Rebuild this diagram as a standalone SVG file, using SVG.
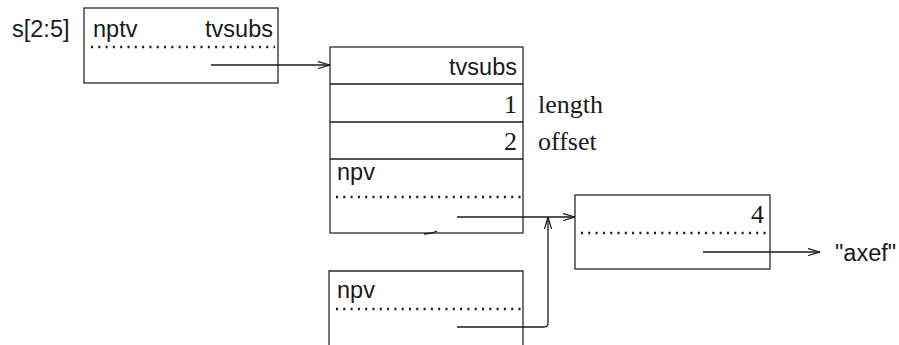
<svg xmlns="http://www.w3.org/2000/svg" width="899" height="345" viewBox="0 0 899 345">
<defs>
<marker id="ah" viewBox="0 0 12 8" refX="12" refY="4" markerWidth="12" markerHeight="8" markerUnits="userSpaceOnUse" orient="auto">
<path d="M0,0.5 L12,4 L0,7.5" fill="none" stroke="#1a1a1a" stroke-width="1.2"/>
</marker>
<style>
.box{fill:#fff;stroke:#2a2a2a;stroke-width:1.3}
.dot{stroke:#1a1a1a;stroke-width:2.4;stroke-dasharray:2 5.3;fill:none}
.sans{font-family:"Liberation Sans",Arial,sans-serif;font-size:23.5px;fill:#1a1a1a}
.serif{font-family:"Liberation Serif","Times New Roman",serif;font-size:26px;fill:#1a1a1a}
.ln{stroke:#1a1a1a;stroke-width:1.3;fill:none}
</style>
</defs>
<rect width="899" height="345" fill="#fff"/>
<text class="sans" x="12" y="37">s[2:5]</text>
<g id="node-s">
<rect class="box" x="84" y="8" width="194" height="75"/>
<text class="sans" x="93" y="37">nptv</text>
<text class="sans" x="273" y="37" text-anchor="end">tvsubs</text>
<line class="dot" x1="91" y1="47" x2="275" y2="47"/>
</g>
<g id="node-tvsubs">
<rect class="box" x="330" y="47" width="193" height="186"/>
<line class="ln" x1="330" y1="84" x2="523" y2="84"/>
<line class="ln" x1="330" y1="122" x2="523" y2="122"/>
<line class="ln" x1="330" y1="159" x2="523" y2="159"/>
<text class="sans" x="517" y="75" text-anchor="end">tvsubs</text>
<text class="serif" x="517" y="113" text-anchor="end">1</text>
<text class="serif" x="538" y="113">length</text>
<text class="serif" x="517" y="150" text-anchor="end">2</text>
<text class="serif" x="538" y="150">offset</text>
<text class="sans" x="337" y="180">npv</text>
<line class="dot" x1="336" y1="197" x2="521" y2="197"/>
</g>
<g id="node-tvsubs2">
<path class="box" d="M523,345 V271 H329 V345"/>
<text class="sans" x="337" y="298">npv</text>
<line class="dot" x1="336" y1="309" x2="521" y2="309"/>
</g>
<g id="node-str">
<rect class="box" x="575" y="195" width="195" height="74"/>
<text class="serif" x="764" y="223" text-anchor="end">4</text>
<line class="dot" x1="581" y1="233" x2="767" y2="233"/>
</g>
<text class="sans" x="835" y="261">"axef"</text>
<g id="connectors">
<line class="ln" x1="211" y1="65" x2="330" y2="65" marker-end="url(#ah)"/>
<line class="ln" x1="457" y1="217" x2="575" y2="217" marker-end="url(#ah)"/>
<path class="ln" d="M457,327 H544 Q548,327 548,323 V217" marker-end="url(#ah)"/>
<line class="ln" x1="703" y1="252" x2="820" y2="252" marker-end="url(#ah)"/>
<path class="ln" d="M424,234 L432,233 L437,231"/>
</g>
</svg>
